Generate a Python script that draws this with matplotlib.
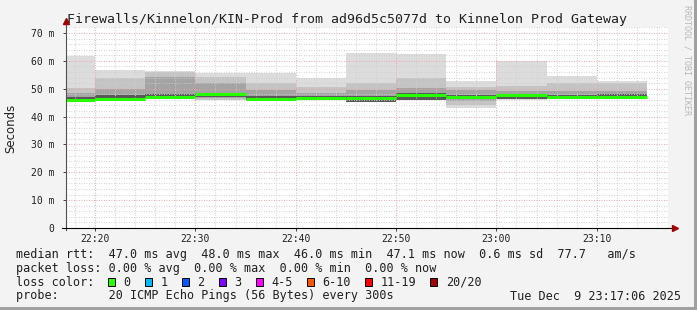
import numpy as np
import matplotlib.pyplot as plt
from matplotlib.patches import Rectangle
from matplotlib.ticker import MultipleLocator, FuncFormatter

# end of each 5 minute step, minutes after 22:00
t_end = np.array([20, 25, 30, 35, 40, 45, 50, 55, 60, 65, 70, 75])

# rtt spread of the 20 pings in each step (ms)
rtt_max = np.array([61.7, 56.7, 56.4, 55.5, 55.8, 53.7, 62.7, 62.5, 52.6, 60.0, 54.6, 52.8])
rtt_p90 = np.array([50.2, 53.7, 56.0, 54.3, 52.1, 50.7, 51.9, 53.7, 50.5, 51.0, 52.0, 51.9])
rtt_p75 = np.array([48.5, 49.8, 54.3, 52.0, 49.5, 48.4, 49.5, 50.2, 49.5, 49.0, 49.0, 49.0])
rtt_p60 = np.array([47.1, 47.7, 48.0, 48.3, 47.5, 47.3, 47.3, 48.3, 47.8, 48.2, 47.8, 48.0])
rtt_median = np.array([46.0, 46.4, 46.9, 48.0, 46.3, 46.6, 46.8, 47.9, 47.1, 47.6, 46.9, 47.1])
rtt_p40 = np.array([45.9, 46.2, 46.7, 47.0, 46.0, 46.4, 45.4, 46.0, 46.6, 46.3, 46.6, 46.8])
rtt_p25 = np.array([45.7, 46.1, 46.6, 46.5, 45.9, 46.3, 45.3, 45.9, 45.5, 46.2, 46.5, 46.6])
rtt_p10 = np.array([45.6, 46.0, 46.5, 46.1, 45.8, 46.2, 45.25, 45.85, 44.0, 46.15, 46.45, 46.55])
rtt_min = np.array([45.4, 45.9, 46.4, 45.9, 45.7, 46.1, 45.2, 45.8, 43.0, 46.1, 46.4, 46.5])

loss_labels = ['0', '1', '2', '3', '4-5', '6-10', '11-19', '20/20']
loss_colors = ['#26ff00', '#00b8ff', '#0059ff', '#7e00ff', '#ff00ff', '#ff5500', '#ff0000', '#a10000']

title = 'Firewalls/Kinnelon/KIN-Prod from ad96d5c5077d to Kinnelon Prod Gateway'
rtt_line = 'median rtt:  47.0 ms avg  48.0 ms max  46.0 ms min  47.1 ms now  0.6 ms sd  77.7   am/s'
loss_line = 'packet loss: 0.00 % avg  0.00 % max  0.00 % min  0.00 % now'
probe_line = 'probe:       20 ICMP Echo Pings (56 Bytes) every 300s'
stamp = 'Tue Dec  9 23:17:06 2025'

W, H = 697, 310
mono = 'DejaVu Sans Mono'


def px(x, y):
    return x / W, 1 - y / H


fig = plt.figure(figsize=(W / 100, H / 100), dpi=100, facecolor='#f3f3f3')
ax = fig.add_axes([66 / W, 82 / H, 602 / W, 201 / H])
ax.set_facecolor('white')

bands = [(rtt_min, rtt_max, '#dcdcdc'),
         (rtt_p10, rtt_p90, '#c4c4c4'),
         (rtt_p25, rtt_p75, '#a4a4a4'),
         (rtt_p40, rtt_p60, '#585858')]
for lo, hi, c in bands:
    ax.bar(t_end - 5, hi - lo, bottom=lo, width=5, align='edge', color=c,
           linewidth=0, zorder=1)
ax.hlines(rtt_median, t_end - 5, t_end, color='#26ff00', lw=2.2, zorder=3)

ax.set_xlim(17.1, 77.1)
ax.set_ylim(0, 72.15)
ax.xaxis.set_major_locator(MultipleLocator(10))
ax.xaxis.set_minor_locator(MultipleLocator(2))
ax.yaxis.set_major_locator(MultipleLocator(10))
ax.yaxis.set_minor_locator(MultipleLocator(2))
ax.xaxis.set_major_formatter(FuncFormatter(lambda v, p: '%d:%02d' % (22 + int(v) // 60, int(v) % 60)))
ax.yaxis.set_major_formatter(FuncFormatter(lambda v, p: '%d m' % v if v > 0 else '0'))
ax.set_axisbelow(False)
ax.grid(which='minor', color='#cfcfcf', linestyle=(0, (0.8, 1.6)), linewidth=0.75)
ax.grid(which='major', color='#f0a0a0', linestyle=(0, (0.8, 1.6)), linewidth=0.75)
ax.tick_params(which='minor', length=0)
ax.tick_params(which='major', length=2.5, width=0.7, color='#404040',
               labelsize=7, pad=2, labelcolor='#202020')
ax.tick_params(axis='y', pad=6)
for lab in ax.get_xticklabels() + ax.get_yticklabels():
    lab.set_family(mono)
for s in ax.spines.values():
    s.set_visible(False)

# axis lines with arrows
ax.plot([0, 0], [-0.01, 1.025], transform=ax.transAxes, color='#505050', lw=0.8, clip_on=False, zorder=5)
ax.plot([-0.007, 1.01], [0, 0], transform=ax.transAxes, color='black', lw=0.8, clip_on=False, zorder=5)
ax.plot([0], [1.03], marker='^', ms=5, color='#a00000', transform=ax.transAxes, clip_on=False, zorder=6)
ax.plot([1.012], [0], marker='>', ms=5, color='#a00000', transform=ax.transAxes, clip_on=False, zorder=6)

fig.text(*px(347, 19.5), title, family=mono, fontsize=9.5, ha='center', va='center', color='#202020')
fig.text(*px(10.8, 128), 'Seconds', fontsize=8.5, rotation=90, ha='center', va='center', color='#202020')
fig.text(*px(687, 5), 'RRDTOOL / TOBI OETIKER', family=mono, fontsize=6, rotation=270,
         ha='center', va='top', color='#b8b8b8')

fig.text(*px(16, 254.3), rtt_line, family=mono, fontsize=8.5, va='center', color='#202020')
fig.text(*px(16, 268.3), loss_line, family=mono, fontsize=8.5, va='center', color='#202020')
fig.text(*px(16, 282.3), 'loss color:', family=mono, fontsize=8.5, va='center', color='#202020')
fig.text(*px(16, 296), probe_line, family=mono, fontsize=8.5, va='center', color='#202020')
fig.text(*px(681, 296), stamp, family=mono, fontsize=8.5, va='center', ha='right', color='#202020')

cw = 7.1
x = 108
for lab, c in zip(loss_labels, loss_colors):
    fig.patches.append(Rectangle(px(x, 286), 7 / W, 8 / H, transform=fig.transFigure,
                                 facecolor=c, edgecolor='black', linewidth=0.7))
    fig.text(*px(x + 15.6, 282.3), lab, family=mono, fontsize=8.5, va='center', color='#202020')
    x += 15.6 + (len(lab) + 2) * cw

# frame shading
fig.patches.append(Rectangle((1 - 3 / W, 0), 3 / W, 1, transform=fig.transFigure, facecolor='#a0a0a0', lw=0))
fig.patches.append(Rectangle((0, 0), 1, 3 / H, transform=fig.transFigure, facecolor='#a0a0a0', lw=0))

fig.savefig('out.png', dpi=100, facecolor=fig.get_facecolor())
